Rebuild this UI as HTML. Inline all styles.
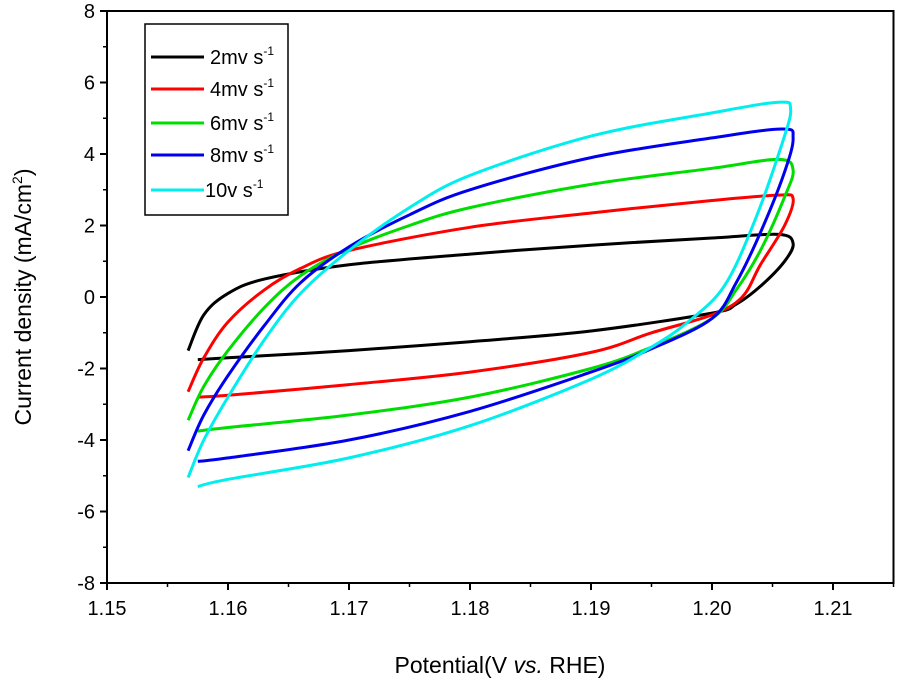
<!DOCTYPE html>
<html><head><meta charset="utf-8"><style>
body{margin:0;background:#fff;width:900px;height:689px;overflow:hidden}
svg{font-family:"Liberation Sans",Arial,sans-serif}
</style></head><body>
<svg id="chart" width="900" height="689">
<g id="plot"></g>
</svg>
<script>
const xTicks=[1.15,1.16,1.17,1.18,1.19,1.20,1.21];
const xTickLabels=["1.15","1.16","1.17","1.18","1.19","1.20","1.21"];
const yTicks=[-8,-6,-4,-2,0,2,4,6,8];
const seriesNames=["2mv s","4mv s","6mv s","8mv s","10v s"];
const seriesColors=["#000000","#ff0000","#00dd00","#0000ee","#00eeee"];
const s2x=[1.1567,1.158,1.16,1.163,1.17,1.18,1.19,1.20,1.2055,1.2067,1.206,1.204,1.202,1.20,1.19,1.18,1.17,1.16,1.1575];
const s2y=[-1.5,-0.5,0.1,0.5,0.9,1.2,1.45,1.65,1.75,1.5,1.0,0.3,-0.2,-0.45,-0.95,-1.25,-1.5,-1.7,-1.75];
const s4x=[1.1567,1.158,1.16,1.163,1.166,1.17,1.18,1.19,1.20,1.2055,1.2067,1.206,1.204,1.2025,1.20,1.195,1.19,1.18,1.17,1.16,1.1575];
const s4y=[-2.65,-1.7,-0.7,0.2,0.8,1.3,1.95,2.35,2.7,2.85,2.75,2.0,0.9,0,-0.5,-1.0,-1.55,-2.1,-2.45,-2.75,-2.8];
const s6x=[1.1567,1.158,1.16,1.163,1.166,1.17,1.175,1.18,1.19,1.20,1.2055,1.2067,1.206,1.204,1.202,1.20,1.195,1.19,1.18,1.17,1.16,1.1575];
const s6y=[-3.45,-2.5,-1.5,-0.3,0.6,1.35,2.0,2.5,3.15,3.6,3.85,3.55,2.8,1.3,0.2,-0.6,-1.4,-2.0,-2.8,-3.3,-3.65,-3.75];
const s8x=[1.1567,1.158,1.16,1.163,1.166,1.17,1.175,1.18,1.19,1.20,1.2058,1.2067,1.206,1.204,1.202,1.20,1.195,1.19,1.18,1.17,1.16,1.1575];
const s8y=[-4.3,-3.3,-2.2,-0.8,0.4,1.4,2.3,3.0,3.9,4.45,4.7,4.45,3.5,1.8,0.4,-0.6,-1.45,-2.1,-3.2,-4.0,-4.5,-4.6];
const s10x=[1.1567,1.158,1.16,1.163,1.166,1.17,1.175,1.18,1.19,1.20,1.2055,1.2065,1.2058,1.2035,1.201,1.198,1.195,1.19,1.18,1.17,1.16,1.1575];
const s10y=[-5.05,-4.0,-2.8,-1.2,0.1,1.3,2.5,3.4,4.5,5.15,5.45,5.25,4.3,2.1,0.3,-0.7,-1.4,-2.3,-3.6,-4.5,-5.1,-5.3];
const allX=[s2x,s4x,s6x,s8x,s10x], allY=[s2y,s4y,s6y,s8y,s10y];

const L=107,R=893.5,T=11,B=583,x0=1.15,x1=1.215,y0=-8,y1=8;
const X=v=>L+(v-x0)/(x1-x0)*(R-L);
const Y=v=>B-(v-y0)/(y1-y0)*(B-T);
const NS="http://www.w3.org/2000/svg";
const g=document.getElementById('plot');
function mk(tag,attrs,parent){const e=document.createElementNS(NS,tag);for(const k in attrs)e.setAttribute(k,attrs[k]);(parent||g).appendChild(e);return e;}
function smooth(pts){
  let d='M'+pts[0][0].toFixed(1)+','+pts[0][1].toFixed(1);
  for(let i=0;i<pts.length-1;i++){
    const p0=pts[Math.max(0,i-1)],p1=pts[i],p2=pts[i+1],p3=pts[Math.min(pts.length-1,i+2)];
    const t=0.3;
    const c1=[p1[0]+(p2[0]-p0[0])*t/1.8,p1[1]+(p2[1]-p0[1])*t/1.8];
    const c2=[p2[0]-(p3[0]-p1[0])*t/1.8,p2[1]-(p3[1]-p1[1])*t/1.8];
    d+='C'+c1[0].toFixed(1)+','+c1[1].toFixed(1)+' '+c2[0].toFixed(1)+','+c2[1].toFixed(1)+' '+p2[0].toFixed(1)+','+p2[1].toFixed(1);
  }
  return d;
}
for(let i=0;i<allX.length;i++){
  const pts=allX[i].map((v,j)=>[X(v),Y(allY[i][j])]);
  const p=mk('path',{d:smooth(pts),fill:'none',stroke:seriesColors[i],'stroke-width':3,'stroke-linejoin':'round'});
  
  
}
const fr=mk('rect',{x:L,y:T,width:R-L,height:B-T,fill:'none',stroke:'#000','stroke-width':2});


xTicks.forEach((v,i)=>{
  mk('line',{x1:X(v),x2:X(v),y1:B,y2:B+7,stroke:'#000','stroke-width':2});
  const h=v+0.005;if(h<x1)mk('line',{x1:X(h),x2:X(h),y1:B,y2:B+4,stroke:'#000','stroke-width':1.5});
  const t=mk('text',{x:X(v),y:B+32,'font-size':20,'text-anchor':'middle'});
  t.textContent=xTickLabels[i];
  
  
});
yTicks.forEach((v,i)=>{
  mk('line',{x1:L-7,x2:L,y1:Y(v),y2:Y(v),stroke:'#000','stroke-width':2});
  if(i<yTicks.length-1){mk('line',{x1:L-4,x2:L,y1:Y(v+1),y2:Y(v+1),stroke:'#000','stroke-width':1.5});}
  const t=mk('text',{x:L-12,y:Y(v)+7,'font-size':20,'text-anchor':'end'});
  t.textContent=String(v);
  
  
});
const xt=mk('text',{x:500,y:673,'font-size':23,'text-anchor':'middle'});
xt.innerHTML='Potential(V <tspan font-style="italic">vs.</tspan> RHE)';


const yt=mk('text',{x:0,y:0,'font-size':23,'text-anchor':'middle',transform:'translate(31,297) rotate(-90)'});
yt.innerHTML='Current density (mA/cm<tspan dy="-9" font-size="14">2</tspan><tspan dy="9">)</tspan>';


const lg=mk('g',{});


mk('rect',{x:145,y:24,width:143,height:191,fill:'#fff',stroke:'#000','stroke-width':1.5},lg);
const ly=[57,89,123,155,190];
seriesNames.forEach((n,i)=>{
  const e=mk('g',{},lg);
  
  
  mk('line',{x1:151,x2:204,y1:ly[i],y2:ly[i],stroke:seriesColors[i],'stroke-width':3},e);
  const t=mk('text',{x:i==4?205:210,y:ly[i]+7,'font-size':20},e);
  t.innerHTML=n+'<tspan dy="-9" font-size="12">-1</tspan>';
});
</script>
</body></html>
